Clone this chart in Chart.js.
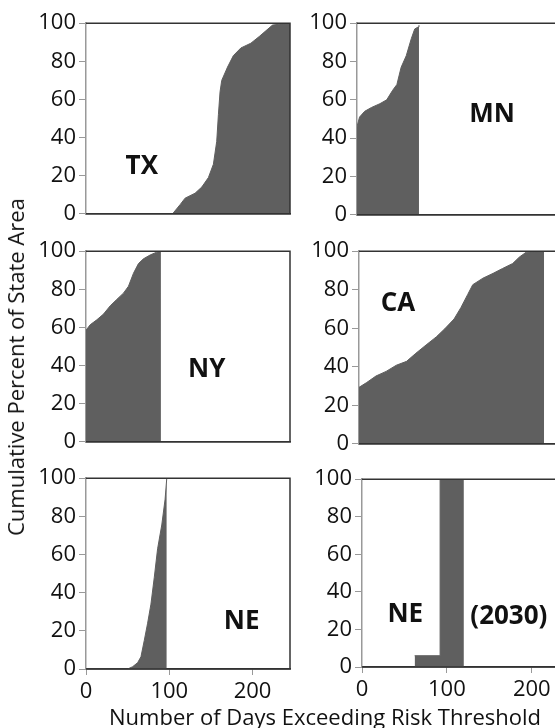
<!DOCTYPE html>
<html>
<head>
<meta charset="utf-8">
<script src="https://cdn.jsdelivr.net/npm/chart.js@4.4.0/dist/chart.umd.min.js"></script>
<style>
  html, body { margin: 0; padding: 0; width: 555px; height: 728px; overflow: hidden; background: #fff; }
  canvas { position: absolute; }
  .title { position: absolute; font-family: "Open Sans", sans-serif; font-size: 22px; color: #111; white-space: nowrap; transform: translate(-50%, -50%); }
</style>
</head>
<body>
<canvas id="tx"></canvas>
<canvas id="mn"></canvas>
<canvas id="ny"></canvas>
<canvas id="ca"></canvas>
<canvas id="ne"></canvas>
<canvas id="ne2030"></canvas>
<div class="title" style="left:325px; top:716px;">Number of Days Exceeding Risk Threshold</div>
<div class="title" style="left:15px; top:367px; transform: translate(-50%, -50%) rotate(-90deg);">Cumulative Percent of State Area</div>

<script>
// cumulative percent of state area vs. days exceeding threshold
const txDays = [0, 104, 113, 119, 131, 139, 147, 153, 157, 159, 161, 163, 170, 177, 186, 198, 208, 216, 224, 236, 245];
const txPct  = [0, 0, 4.8, 8.2, 10.8, 14, 19, 26, 38, 52, 64, 70, 77, 83, 87, 89.5, 93, 96, 99, 99.7, 100];

const mnDays = [0, 3, 9, 17, 27, 35, 42, 47, 52, 58, 64, 68, 72, 73];
const mnPct  = [46, 51, 54, 56, 58, 60, 65, 68, 77, 83, 92, 97, 98, 99];

const nyDays = [0, 5, 13, 21, 29, 37, 45, 51, 57, 63, 69, 77, 85, 90];
const nyPct  = [58.5, 61.4, 64, 67, 71.3, 74.7, 78, 81.6, 88.4, 93.5, 96, 98, 99.5, 100];

const caDays = [0, 9, 20, 32, 44, 56, 67, 79, 91, 101, 112, 120, 128, 134, 146, 158, 169, 181, 189, 197, 218];
const caPct  = [29.3, 31.8, 35.2, 37.6, 40.8, 42.8, 47, 51.3, 55.5, 59.7, 64.8, 70.7, 77.5, 82.6, 86, 88.5, 91, 93.6, 97, 99.5, 100];

const neDays = [0, 50, 56, 62, 66, 70, 74, 78, 82, 86, 91, 95, 97];
const nePct  = [0, 0, 1.2, 3.3, 6.4, 15, 24, 34, 48, 63, 75.5, 89, 100];

const ne2030Days = [62, 92, 120];
const ne2030Pct  = [6, 100, 100];

const xTicks = [0, 100, 200];
const yTicks = [0, 20, 40, 60, 80, 100];

Chart.defaults.font.family = '"Open Sans", sans-serif';
Chart.defaults.color = '#111';

const yW = 86, padTop = 14, padRight = 5;

// panel frame + state label
const framePlugin = {
  id: 'frame',
  afterDatasetsDraw(chart, args, opts) {
    const { ctx, chartArea: a, scales } = chart;
    ctx.save();
    ctx.strokeStyle = '#333';
    ctx.lineWidth = 1.5;
    ctx.beginPath();
    ctx.moveTo(a.left, a.top);
    ctx.lineTo(a.right, a.top);
    ctx.lineTo(a.right, a.bottom);
    ctx.lineTo(a.left, a.bottom);
    ctx.stroke();
    ctx.fillStyle = '#111';
    ctx.font = 'bold 26px "Open Sans", sans-serif';
    ctx.textAlign = 'center';
    ctx.textBaseline = 'middle';
    opts.labels.forEach(l => {
      ctx.fillText(l.text, scales.x.getPixelForValue(l.x), scales.y.getPixelForValue(l.y));
    });
    ctx.restore();
  }
};

function makePanel(id, days, pct, box, labels, bottom, stepped) {
  const xH = bottom ? 50 : 14;
  const cv = document.getElementById(id);
  cv.width = yW + box.w + padRight;
  cv.height = padTop + box.h + xH;
  cv.style.left = (box.left - yW) + 'px';
  cv.style.top = (box.top - padTop) + 'px';

  new Chart(cv, {
    type: 'line',
    data: {
      datasets: [{
        data: days.map((d, i) => ({ x: d, y: pct[i] })),
        fill: 'origin',
        backgroundColor: '#5f5f5f',
        borderColor: '#5f5f5f',
        borderWidth: 1,
        pointRadius: 0,
        tension: 0,
        stepped: stepped
      }]
    },
    options: {
      responsive: false,
      animation: false,
      layout: { padding: { top: padTop, right: padRight, left: 0, bottom: 0 } },
      plugins: {
        legend: { display: false },
        tooltip: { enabled: false },
        frame: { labels: labels }
      },
      scales: {
        x: {
          type: 'linear',
          min: 0,
          max: 245,
          afterFit: s => { s.height = xH; },
          afterBuildTicks: s => { s.ticks = xTicks.map(v => ({ value: v })); },
          ticks: { display: bottom, includeBounds: false, padding: 4, font: { size: 22 }, maxRotation: 0 },
          grid: { drawOnChartArea: false, drawTicks: bottom, tickLength: 6, color: '#999' },
          border: { color: '#333', width: 1.5 }
        },
        y: {
          min: 0,
          max: 100,
          afterFit: s => { s.width = yW; },
          afterBuildTicks: s => { s.ticks = yTicks.map(v => ({ value: v })); },
          ticks: { padding: 3, font: { size: 22 } },
          grid: { drawOnChartArea: false, tickLength: 7, color: '#999' },
          border: { color: '#999', width: 1.5 }
        }
      }
    },
    plugins: [framePlugin]
  });
}

makePanel('tx', txDays, txPct, { left: 86, top: 21, w: 204, h: 195 }, [{ text: 'TX', x: 67, y: 25 }], false, false);
makePanel('mn', mnDays, mnPct, { left: 357, top: 21, w: 208, h: 196 }, [{ text: 'MN', x: 159, y: 52.5 }], false, false);
makePanel('ny', nyDays, nyPct, { left: 86, top: 249, w: 204, h: 195 }, [{ text: 'NY', x: 145, y: 38 }], false, false);
makePanel('ca', caDays, caPct, { left: 359, top: 249, w: 208, h: 197 }, [{ text: 'CA', x: 46, y: 73 }], false, false);
makePanel('ne', neDays, nePct, { left: 86, top: 476, w: 204, h: 193 }, [{ text: 'NE', x: 187, y: 25 }], true, false);
makePanel('ne2030', ne2030Days, ne2030Pct, { left: 362, top: 477, w: 208, h: 190 },
  [{ text: 'NE', x: 51, y: 28 }, { text: '(2030)', x: 173, y: 27 }], true, true);
</script>
</body>
</html>
